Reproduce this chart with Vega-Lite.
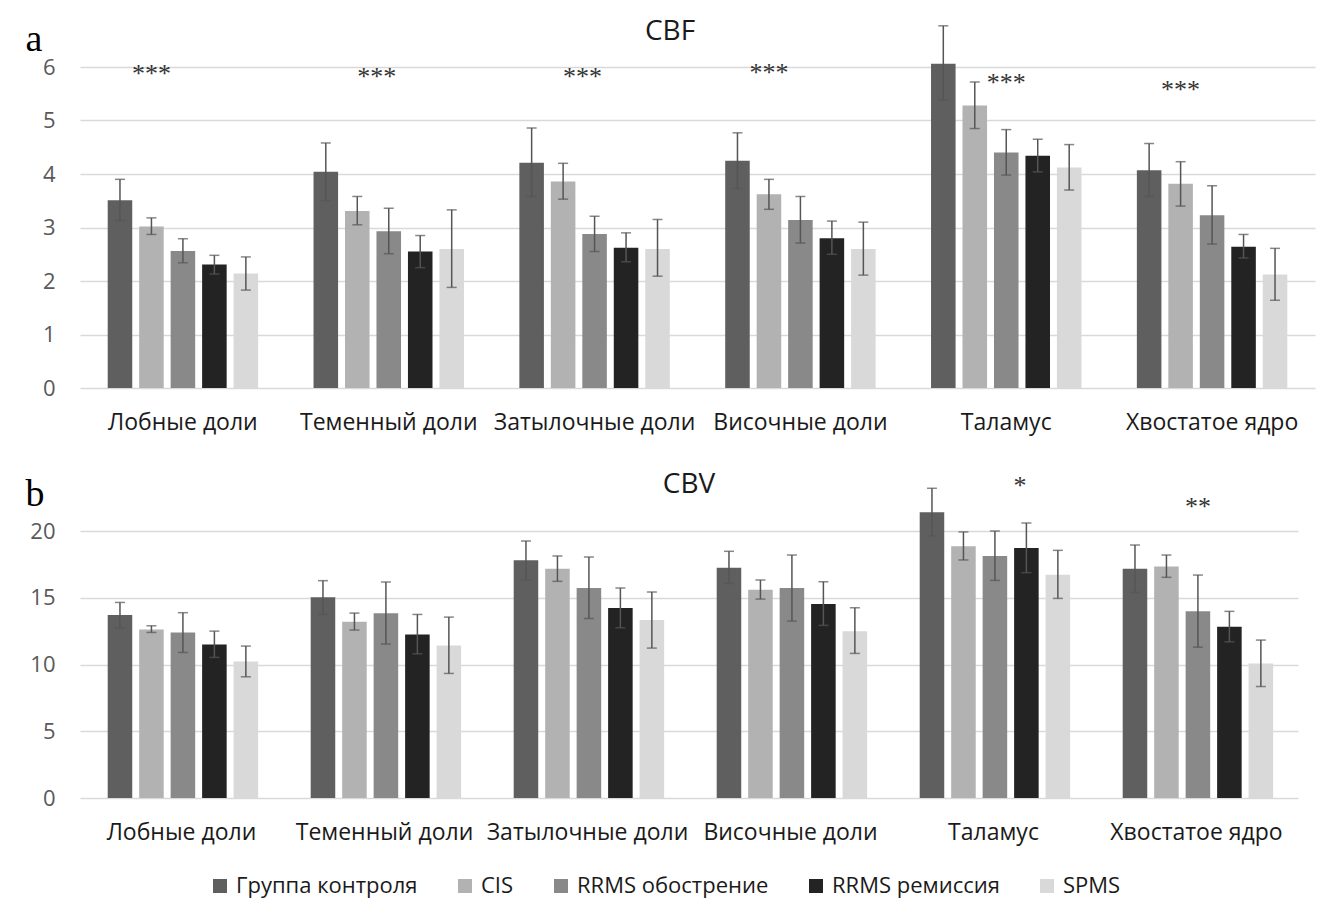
{
  "$schema": "https://vega.github.io/schema/vega-lite/v6.json",
  "background": "white",
  "padding": {"left": 25, "top": 18, "right": 8, "bottom": 2},
  "spacing": 36,
  "datasets": {
    "cbf": [
      {"region": "Лобные доли", "group": "Группа контроля", "mean": 3.51, "lo": 3.13, "hi": 3.90},
      {"region": "Лобные доли", "group": "CIS", "mean": 3.02, "lo": 2.87, "hi": 3.18},
      {"region": "Лобные доли", "group": "RRMS обострение", "mean": 2.56, "lo": 2.34, "hi": 2.79},
      {"region": "Лобные доли", "group": "RRMS ремиссия", "mean": 2.31, "lo": 2.13, "hi": 2.48},
      {"region": "Лобные доли", "group": "SPMS", "mean": 2.14, "lo": 1.83, "hi": 2.45},
      {"region": "Теменный доли", "group": "Группа контроля", "mean": 4.04, "lo": 3.50, "hi": 4.58},
      {"region": "Теменный доли", "group": "CIS", "mean": 3.31, "lo": 3.05, "hi": 3.58},
      {"region": "Теменный доли", "group": "RRMS обострение", "mean": 2.93, "lo": 2.51, "hi": 3.36},
      {"region": "Теменный доли", "group": "RRMS ремиссия", "mean": 2.55, "lo": 2.25, "hi": 2.85},
      {"region": "Теменный доли", "group": "SPMS", "mean": 2.60, "lo": 1.88, "hi": 3.33},
      {"region": "Затылочные доли", "group": "Группа контроля", "mean": 4.21, "lo": 3.58, "hi": 4.86},
      {"region": "Затылочные доли", "group": "CIS", "mean": 3.86, "lo": 3.53, "hi": 4.20},
      {"region": "Затылочные доли", "group": "RRMS обострение", "mean": 2.88, "lo": 2.55, "hi": 3.21},
      {"region": "Затылочные доли", "group": "RRMS ремиссия", "mean": 2.62, "lo": 2.36, "hi": 2.90},
      {"region": "Затылочные доли", "group": "SPMS", "mean": 2.60, "lo": 2.09, "hi": 3.15},
      {"region": "Височные доли", "group": "Группа контроля", "mean": 4.25, "lo": 3.73, "hi": 4.77},
      {"region": "Височные доли", "group": "CIS", "mean": 3.62, "lo": 3.34, "hi": 3.90},
      {"region": "Височные доли", "group": "RRMS обострение", "mean": 3.14, "lo": 2.71, "hi": 3.58},
      {"region": "Височные доли", "group": "RRMS ремиссия", "mean": 2.80, "lo": 2.50, "hi": 3.12},
      {"region": "Височные доли", "group": "SPMS", "mean": 2.60, "lo": 2.11, "hi": 3.10},
      {"region": "Таламус", "group": "Группа контроля", "mean": 6.06, "lo": 5.38, "hi": 6.77},
      {"region": "Таламус", "group": "CIS", "mean": 5.28, "lo": 4.85, "hi": 5.72},
      {"region": "Таламус", "group": "RRMS обострение", "mean": 4.40, "lo": 3.98, "hi": 4.83},
      {"region": "Таламус", "group": "RRMS ремиссия", "mean": 4.34, "lo": 4.04, "hi": 4.65},
      {"region": "Таламус", "group": "SPMS", "mean": 4.12, "lo": 3.70, "hi": 4.55},
      {"region": "Хвостатое ядро", "group": "Группа контроля", "mean": 4.07, "lo": 3.58, "hi": 4.57},
      {"region": "Хвостатое ядро", "group": "CIS", "mean": 3.82, "lo": 3.40, "hi": 4.23},
      {"region": "Хвостатое ядро", "group": "RRMS обострение", "mean": 3.23, "lo": 2.69, "hi": 3.78},
      {"region": "Хвостатое ядро", "group": "RRMS ремиссия", "mean": 2.64, "lo": 2.43, "hi": 2.87},
      {"region": "Хвостатое ядро", "group": "SPMS", "mean": 2.12, "lo": 1.64, "hi": 2.61}
    ],
    "cbv": [
      {"region": "Лобные доли", "group": "Группа контроля", "mean": 13.70, "lo": 12.75, "hi": 14.65},
      {"region": "Лобные доли", "group": "CIS", "mean": 12.63, "lo": 12.40, "hi": 12.90},
      {"region": "Лобные доли", "group": "RRMS обострение", "mean": 12.40, "lo": 10.90, "hi": 13.88},
      {"region": "Лобные доли", "group": "RRMS ремиссия", "mean": 11.50, "lo": 10.53, "hi": 12.50},
      {"region": "Лобные доли", "group": "SPMS", "mean": 10.23, "lo": 9.08, "hi": 11.38},
      {"region": "Теменный доли", "group": "Группа контроля", "mean": 15.03, "lo": 13.75, "hi": 16.28},
      {"region": "Теменный доли", "group": "CIS", "mean": 13.20, "lo": 12.58, "hi": 13.85},
      {"region": "Теменный доли", "group": "RRMS обострение", "mean": 13.83, "lo": 11.53, "hi": 16.18},
      {"region": "Теменный доли", "group": "RRMS ремиссия", "mean": 12.25, "lo": 10.80, "hi": 13.75},
      {"region": "Теменный доли", "group": "SPMS", "mean": 11.43, "lo": 9.33, "hi": 13.55},
      {"region": "Затылочные доли", "group": "Группа контроля", "mean": 17.80, "lo": 16.33, "hi": 19.25},
      {"region": "Затылочные доли", "group": "CIS", "mean": 17.18, "lo": 16.23, "hi": 18.13},
      {"region": "Затылочные доли", "group": "RRMS обострение", "mean": 15.73, "lo": 13.45, "hi": 18.05},
      {"region": "Затылочные доли", "group": "RRMS ремиссия", "mean": 14.23, "lo": 12.75, "hi": 15.73},
      {"region": "Затылочные доли", "group": "SPMS", "mean": 13.33, "lo": 11.23, "hi": 15.43},
      {"region": "Височные доли", "group": "Группа контроля", "mean": 17.25, "lo": 16.08, "hi": 18.48},
      {"region": "Височные доли", "group": "CIS", "mean": 15.60, "lo": 14.90, "hi": 16.33},
      {"region": "Височные доли", "group": "RRMS обострение", "mean": 15.73, "lo": 13.25, "hi": 18.20},
      {"region": "Височные доли", "group": "RRMS ремиссия", "mean": 14.53, "lo": 12.93, "hi": 16.20},
      {"region": "Височные доли", "group": "SPMS", "mean": 12.50, "lo": 10.83, "hi": 14.25},
      {"region": "Таламус", "group": "Группа контроля", "mean": 21.40, "lo": 19.63, "hi": 23.20},
      {"region": "Таламус", "group": "CIS", "mean": 18.85, "lo": 17.83, "hi": 19.93},
      {"region": "Таламус", "group": "RRMS обострение", "mean": 18.13, "lo": 16.30, "hi": 20.00},
      {"region": "Таламус", "group": "RRMS ремиссия", "mean": 18.73, "lo": 16.88, "hi": 20.60},
      {"region": "Таламус", "group": "SPMS", "mean": 16.73, "lo": 14.95, "hi": 18.55},
      {"region": "Хвостатое ядро", "group": "Группа контроля", "mean": 17.18, "lo": 15.40, "hi": 18.95},
      {"region": "Хвостатое ядро", "group": "CIS", "mean": 17.35, "lo": 16.53, "hi": 18.20},
      {"region": "Хвостатое ядро", "group": "RRMS обострение", "mean": 13.98, "lo": 11.30, "hi": 16.70},
      {"region": "Хвостатое ядро", "group": "RRMS ремиссия", "mean": 12.83, "lo": 11.70, "hi": 13.98},
      {"region": "Хвостатое ядро", "group": "SPMS", "mean": 10.08, "lo": 8.35, "hi": 11.83}
    ],
    "sigA": [
      {"region": "Лобные доли", "group": "CIS", "label": "***", "pos": 5.87},
      {"region": "Теменный доли", "group": "CIS", "label": "***", "pos": 5.81},
      {"region": "Затылочные доли", "group": "CIS", "label": "***", "pos": 5.81},
      {"region": "Височные доли", "group": "CIS", "label": "***", "pos": 5.89},
      {"region": "Таламус", "group": "RRMS обострение", "label": "***", "pos": 5.70},
      {"region": "Хвостатое ядро", "group": "CIS", "label": "***", "pos": 5.57}
    ],
    "sigB": [
      {"region": "Таламус", "group": "RRMS ремиссия", "label": "*", "pos": 23.4},
      {"region": "Хвостатое ядро", "group": "RRMS обострение", "label": "**", "pos": 21.8}
    ]
  },
  "vconcat": [
    {
      "width": 1235,
      "height": 321,
      "title": {"text": "CBF", "fontSize": 28, "fontWeight": "normal", "color": "#1a1a1a", "offset": -26, "anchor": "middle", "frame": "bounds"},
      "data": {"name": "cbf"},
      "encoding": {
        "x": {"field": "region", "type": "nominal", "sort": ["Лобные доли", "Теменный доли", "Затылочные доли", "Височные доли", "Таламус", "Хвостатое ядро"], "scale": {"paddingInner": 0, "paddingOuter": 0}, "axis": {"title": null}},
        "xOffset": {"field": "group", "type": "nominal", "sort": ["Группа контроля", "CIS", "RRMS обострение", "RRMS ремиссия", "SPMS"], "scale": {"paddingInner": 0.22, "paddingOuter": 0.88}}
      },
      "layer": [
        {
          "mark": {"type": "bar"},
          "encoding": {
            "y": {"field": "mean", "type": "quantitative", "title": "a", "scale": {"domain": [0, 6], "nice": false}, "axis": {"values": [0, 1, 2, 3, 4, 5, 6], "format": "d", "titleX": -55, "titleY": -17}},
            "color": {"field": "group", "type": "nominal", "sort": ["Группа контроля", "CIS", "RRMS обострение", "RRMS ремиссия", "SPMS"], "scale": {"range": ["#5f5f5f", "#b2b2b2", "#898989", "#232323", "#d9d9d9"]},
              "legend": {"orient": "none", "legendX": 129, "legendY": 808, "direction": "horizontal", "title": null, "symbolType": "square", "symbolSize": 196, "symbolStrokeWidth": 0, "labelFontSize": 22, "labelColor": "#1a1a1a", "labelOffset": 5, "labelLimit": 400, "columnPadding": 36}}
          }
        },
        {
          "mark": {"type": "rule", "color": "#555555", "strokeWidth": 1.5},
          "encoding": {"y": {"field": "lo", "type": "quantitative", "title": "a"}, "y2": {"field": "hi"}}
        },
        {
          "mark": {"type": "tick", "color": "#555555", "thickness": 1.5, "size": 10},
          "encoding": {"y": {"field": "hi", "type": "quantitative", "title": "a"}}
        },
        {
          "mark": {"type": "tick", "color": "#555555", "thickness": 1.5, "size": 10},
          "encoding": {"y": {"field": "lo", "type": "quantitative", "title": "a"}}
        },
        {
          "data": {"name": "sigA"},
          "transform": [{"filter": "datum.region !== 'Теменный доли' && datum.region !== 'Затылочные доли'"}],
          "mark": {"type": "text", "font": "Liberation Serif", "fontSize": 26, "color": "#333333", "baseline": "middle"},
          "encoding": {"y": {"field": "pos", "type": "quantitative", "title": "a"}, "text": {"field": "label"}}
        },
        {
          "data": {"name": "sigA"},
          "transform": [{"filter": "datum.region === 'Теменный доли' || datum.region === 'Затылочные доли'"}],
          "mark": {"type": "text", "font": "Liberation Serif", "fontSize": 26, "color": "#333333", "baseline": "middle", "align": "left"},
          "encoding": {"y": {"field": "pos", "type": "quantitative", "title": "a"}, "text": {"field": "label"}}
        }
      ]
    },
    {
      "width": 1218,
      "height": 267,
      "title": {"text": "CBV", "fontSize": 28, "fontWeight": "normal", "color": "#1a1a1a", "offset": -26, "anchor": "middle", "frame": "group"},
      "data": {"name": "cbv"},
      "encoding": {
        "x": {"field": "region", "type": "nominal", "sort": ["Лобные доли", "Теменный доли", "Затылочные доли", "Височные доли", "Таламус", "Хвостатое ядро"], "scale": {"paddingInner": 0, "paddingOuter": 0}, "axis": {"title": null}},
        "xOffset": {"field": "group", "type": "nominal", "sort": ["Группа контроля", "CIS", "RRMS обострение", "RRMS ремиссия", "SPMS"], "scale": {"paddingInner": 0.22, "paddingOuter": 0.88}}
      },
      "layer": [
        {
          "mark": {"type": "bar"},
          "encoding": {
            "y": {"field": "mean", "type": "quantitative", "title": "b", "scale": {"domain": [0, 20], "nice": false}, "axis": {"values": [0, 5, 10, 15, 20], "format": "d", "titleX": -55, "titleY": -26}},
            "color": {"field": "group", "type": "nominal", "sort": ["Группа контроля", "CIS", "RRMS обострение", "RRMS ремиссия", "SPMS"], "scale": {"range": ["#5f5f5f", "#b2b2b2", "#898989", "#232323", "#d9d9d9"]}}
          }
        },
        {
          "mark": {"type": "rule", "color": "#555555", "strokeWidth": 1.5},
          "encoding": {"y": {"field": "lo", "type": "quantitative", "title": "b"}, "y2": {"field": "hi"}}
        },
        {
          "mark": {"type": "tick", "color": "#555555", "thickness": 1.5, "size": 10},
          "encoding": {"y": {"field": "hi", "type": "quantitative", "title": "b"}}
        },
        {
          "mark": {"type": "tick", "color": "#555555", "thickness": 1.5, "size": 10},
          "encoding": {"y": {"field": "lo", "type": "quantitative", "title": "b"}}
        },
        {
          "data": {"name": "sigB"},
          "transform": [{"filter": "datum.region !== 'Таламус'"}],
          "mark": {"type": "text", "font": "Liberation Serif", "fontSize": 26, "color": "#333333", "baseline": "middle"},
          "encoding": {"y": {"field": "pos", "type": "quantitative", "title": "b"}, "text": {"field": "label"}}
        },
        {
          "data": {"name": "sigB"},
          "transform": [{"filter": "datum.region === 'Таламус'"}],
          "mark": {"type": "text", "font": "Liberation Serif", "fontSize": 26, "color": "#333333", "baseline": "middle", "align": "right"},
          "encoding": {"y": {"field": "pos", "type": "quantitative", "title": "b"}, "text": {"field": "label"}}
        }
      ]
    }
  ],
  "config": {
    "font": "Open Sans",
    "view": {"stroke": null},
    "title": {"font": "Open Sans"},
    "axisX": {"labelAngle": 0, "labelFontSize": 23, "labelColor": "#1a1a1a", "labelPadding": 23, "labelLimit": 400, "ticks": false, "domain": false, "grid": false},
    "axisY": {"labelFontSize": 22, "labelColor": "#595959", "labelPadding": 25, "ticks": false, "domain": false, "grid": true, "gridColor": "#d9d9d9", "gridWidth": 1.5, "titleAngle": 0, "titleFont": "Liberation Serif", "titleFontSize": 38, "titleFontWeight": "normal", "titleColor": "#000000", "titleAlign": "left", "titleBaseline": "alphabetic"},
    "legend": {"labelFont": "Open Sans"}
  }
}
